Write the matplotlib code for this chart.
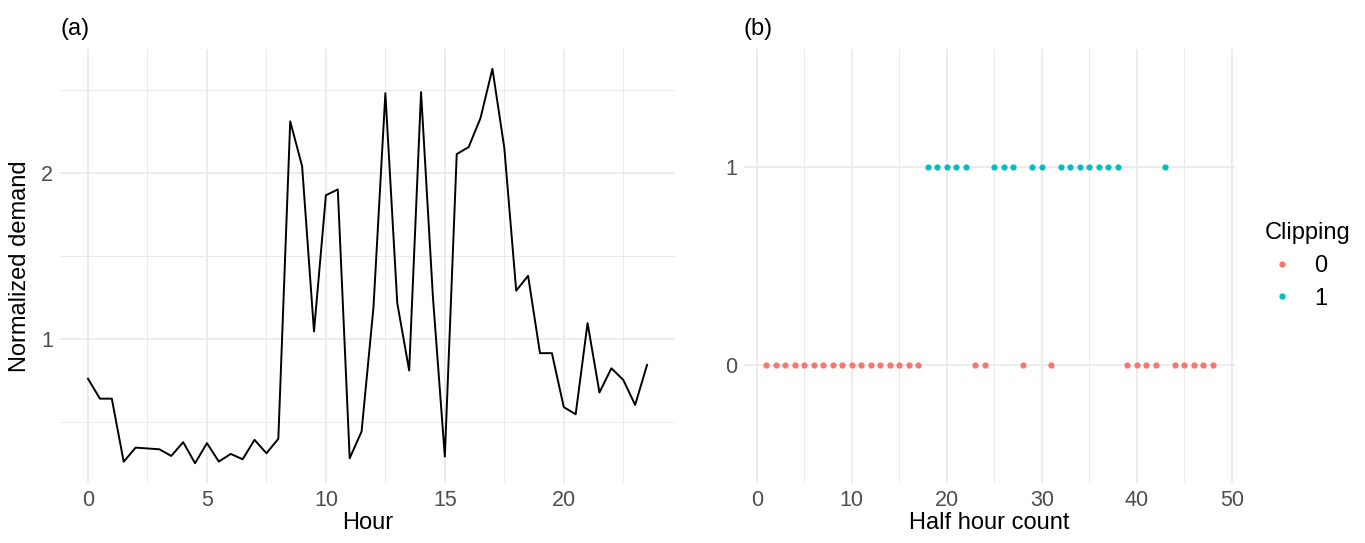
import numpy as np
import matplotlib.pyplot as plt
from matplotlib.lines import Line2D

plt.rcParams['font.family'] = ['Liberation Sans', 'DejaVu Sans']

# (a) normalized demand per half hour
hours = np.arange(0, 24, 0.5)
demand = [0.76, 0.64, 0.64, 0.26, 0.345, 0.34, 0.335, 0.295, 0.378, 0.251,
          0.372, 0.261, 0.307, 0.275, 0.392, 0.311, 0.398, 2.31, 2.04, 1.045,
          1.865, 1.90, 0.281, 0.442, 1.19, 2.48, 1.215, 0.81, 2.486, 1.25,
          0.291, 2.113, 2.155, 2.33, 2.627, 2.15, 1.29, 1.38, 0.914, 0.914,
          0.589, 0.546, 1.095, 0.677, 0.823, 0.753, 0.602, 0.843]

# (b) clipping flag per half hour count
half_hours = np.arange(1, 49)
clip_on = [18, 19, 20, 21, 22, 25, 26, 27, 29, 30, 32, 33, 34, 35, 36, 37, 38, 43]
clipping = [1 if h in clip_on else 0 for h in half_hours]

clip_colors = {0: '#F8766D', 1: '#00BFC4'}
grid_major = '#EBEBEB'
tick_grey = '#4D4D4D'

fig = plt.figure(figsize=(13.65, 5.43), dpi=100)
ax1 = fig.add_axes([0.044, 0.1105, 0.4505, 0.7993])
ax2 = fig.add_axes([0.545, 0.1105, 0.3598, 0.7993])

for ax in (ax1, ax2):
    for s in ax.spines.values():
        s.set_visible(False)
    ax.tick_params(which='both', length=0, labelsize=15.5, colors=tick_grey, pad=5)
    ax.set_axisbelow(True)
    ax.grid(which='major', color=grid_major, linewidth=1.3)
    ax.grid(which='minor', color=grid_major, linewidth=0.7)

# left panel: demand line
ax1.plot(hours, demand, color='black', linewidth=1.4)
ax1.set_xlim(-1.175, 24.675)
ax1.set_ylim(0.132, 2.746)
ax1.set_xticks([0, 5, 10, 15, 20])
ax1.set_xticks(np.arange(2.5, 25, 5), minor=True)
ax1.set_yticks([1, 2])
ax1.set_yticks([0.5, 1.5, 2.5], minor=True)
ax1.set_xlabel('Hour', fontsize=17, labelpad=1)
ax1.set_ylabel('Normalized demand', fontsize=17, labelpad=7)
ax1.set_title('(a)', loc='left', fontsize=17, pad=10)

# right panel: clipping points
for flag in (0, 1):
    xs = [h for h, c in zip(half_hours, clipping) if c == flag]
    ax2.scatter(xs, [flag] * len(xs), s=20, color=clip_colors[flag], linewidths=0)
ax2.set_xlim(-1.35, 50.35)
ax2.set_ylim(-0.6, 1.6)
ax2.set_xticks([0, 10, 20, 30, 40, 50])
ax2.set_xticks([5, 15, 25, 35, 45], minor=True)
ax2.set_yticks([0, 1])
ax2.set_xlabel('Half hour count', fontsize=17, labelpad=1)
ax2.set_title('(b)', loc='left', fontsize=17, pad=10)
ax2.grid(which='minor', axis='y', visible=False)

handles = [Line2D([], [], marker='o', linestyle='none', markersize=4.5,
                  markerfacecolor=clip_colors[k], markeredgewidth=0, label=str(k))
           for k in (0, 1)]
fig.legend(handles=handles, title='Clipping', loc='center left',
           bbox_to_anchor=(0.911, 0.51), frameon=False, fontsize=17,
           title_fontsize=17, handlelength=1.5, handletextpad=0.6,
           labelspacing=0.45, alignment='left')

fig.savefig('out.png', dpi=100)
